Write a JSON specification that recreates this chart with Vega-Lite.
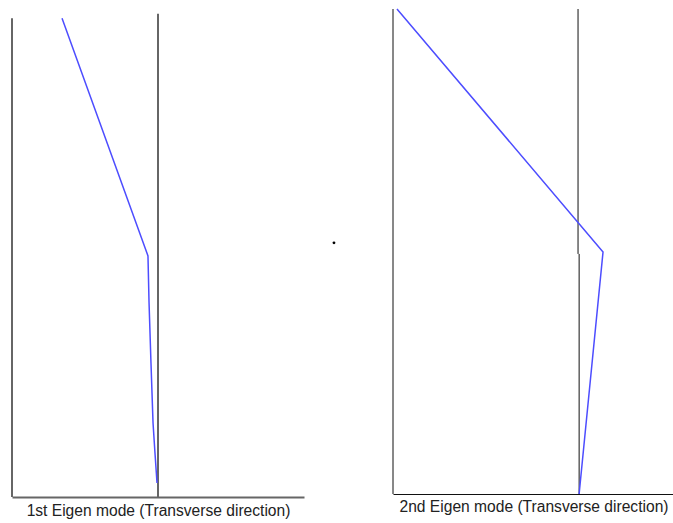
{
  "$schema": "https://vega.github.io/schema/vega-lite/v6.json",
  "padding": {"left": 11, "top": 6, "right": 0, "bottom": 0},
  "spacing": 89,
  "bounds": "flush",
  "background": "white",
  "config": {"view": {"stroke": null}},
  "hconcat": [
    {
      "width": 292,
      "height": 488,
      "layer": [
        {
          "data": {"values": [{"d": -1.5, "h": 0, "h2": 99.1}]},
          "mark": {"type": "rule", "color": "#666666", "strokeWidth": 2},
          "encoding": {
            "x": {"field": "d", "type": "quantitative", "scale": {"domain": [-1.5, 1.5], "nice": false, "zero": false},
              "axis": {"title": "1st Eigen mode (Transverse direction)", "ticks": false, "labels": false, "grid": false, "domain": true, "domainColor": "#666666", "domainWidth": 2, "titleFont": "Liberation Sans", "titleFontSize": 15.6, "titleFontWeight": "normal", "titleColor": "#222222", "titlePadding": 6}},
            "y": {"field": "h", "type": "quantitative", "scale": {"domain": [0, 101], "nice": false, "zero": false}, "axis": null},
            "y2": {"field": "h2"}
          }
        },
        {
          "data": {"values": [{"d": 0, "h": 0, "h2": 100}]},
          "mark": {"type": "rule", "color": "#666666", "strokeWidth": 2},
          "encoding": {
            "x": {"field": "d", "type": "quantitative"},
            "y": {"field": "h", "type": "quantitative", "axis": null},
            "y2": {"field": "h2"}
          }
        },
        {
          "data": {"values": [
            {"i": 0, "d": -0.986, "h": 99.1},
            {"i": 1, "d": -0.103, "h": 49.9},
            {"i": 2, "d": -0.092, "h": 40.2},
            {"i": 3, "d": -0.072, "h": 27.7},
            {"i": 4, "d": -0.051, "h": 15.3},
            {"i": 5, "d": -0.031, "h": 9.1},
            {"i": 6, "d": -0.010, "h": 2.9}
          ]},
          "mark": {"type": "line", "color": "#4d4dff", "strokeWidth": 1.5},
          "encoding": {
            "x": {"field": "d", "type": "quantitative"},
            "y": {"field": "h", "type": "quantitative", "axis": null},
            "order": {"field": "i", "type": "quantitative"}
          }
        },
        {
          "data": {"values": [{"d": 1.808, "h": 52.6}]},
          "mark": {"type": "circle", "color": "#000000", "size": 8, "opacity": 1},
          "encoding": {
            "x": {"field": "d", "type": "quantitative"},
            "y": {"field": "h", "type": "quantitative", "axis": null}
          }
        }
      ]
    },
    {
      "width": 281,
      "height": 485,
      "layer": [
        {
          "data": {"values": [{"d": -1.022, "h": 0, "h2": 100}]},
          "mark": {"type": "rule", "color": "#111111", "strokeWidth": 1},
          "encoding": {
            "x": {"field": "d", "type": "quantitative", "scale": {"domain": [-1.022, 0.53], "nice": false, "zero": false},
              "axis": {"title": "2nd Eigen mode (Transverse direction)", "ticks": false, "labels": false, "grid": false, "domain": true, "domainColor": "#111111", "domainWidth": 1, "titleFont": "Liberation Sans", "titleFontSize": 15.6, "titleFontWeight": "normal", "titleColor": "#222222", "titlePadding": 5}},
            "y": {"field": "h", "type": "quantitative", "scale": {"domain": [0, 100], "nice": false, "zero": false}, "axis": null},
            "y2": {"field": "h2"}
          }
        },
        {
          "data": {"values": [{"d": 0, "h": 49.5, "h2": 100}, {"d": 0.006, "h": 0, "h2": 49.5}]},
          "mark": {"type": "rule", "color": "#111111", "strokeWidth": 1},
          "encoding": {
            "x": {"field": "d", "type": "quantitative"},
            "y": {"field": "h", "type": "quantitative", "axis": null},
            "y2": {"field": "h2"}
          }
        },
        {
          "data": {"values": [
            {"i": 0, "d": -1.0, "h": 100},
            {"i": 1, "d": 0.138, "h": 49.9},
            {"i": 2, "d": 0.006, "h": 0}
          ]},
          "mark": {"type": "line", "color": "#4d4dff", "strokeWidth": 1.5},
          "encoding": {
            "x": {"field": "d", "type": "quantitative"},
            "y": {"field": "h", "type": "quantitative", "axis": null},
            "order": {"field": "i", "type": "quantitative"}
          }
        }
      ]
    }
  ]
}
